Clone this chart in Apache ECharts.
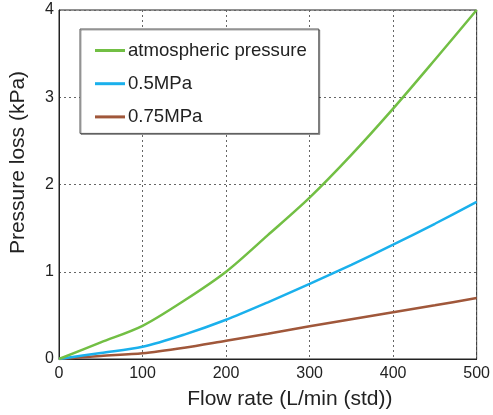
<!DOCTYPE html>
<html>
<head>
<meta charset="utf-8">
<script src="https://cdn.jsdelivr.net/npm/echarts@6/dist/echarts.min.js"></script>
<style>
html, body { margin: 0; padding: 0; background: #fff; }
#chart { width: 493px; height: 415px; }
</style>
</head>
<body>
<div id="chart"></div>
<script>
var flowRates = [0, 50, 100, 150, 200, 250, 300, 350, 400, 450, 500];
var atmospheric = [0, 0.19, 0.38, 0.67, 1.0, 1.42, 1.85, 2.34, 2.87, 3.43, 4.0];
var mpa05 = [0, 0.07, 0.14, 0.28, 0.45, 0.65, 0.86, 1.08, 1.31, 1.55, 1.8];
var mpa075 = [0, 0.035, 0.065, 0.13, 0.21, 0.29, 0.375, 0.455, 0.535, 0.615, 0.7];
var seriesNames = ['atmospheric pressure', '0.5MPa', '0.75MPa'];
var seriesColors = ['#72bf44', '#1ab0ec', '#a0573a'];

function pairs(values) {
    return flowRates.map(function (x, i) {
        return [x, values[i]];
    });
}

var gridLine = {
    show: true,
    lineStyle: { color: '#666', type: [2, 3], width: 1 }
};

var option = {
    animation: false,
    textStyle: { fontFamily: 'Liberation Sans, Arial, sans-serif' },
    grid: {
        left: 56, right: 15, top: 10, bottom: 55,
        show: true,
        borderColor: '#222',
        borderWidth: 1
    },
    legend: {
        orient: 'vertical',
        left: 80,
        top: 29,
        data: seriesNames.map(function (n) { return { name: n, icon: 'rect' }; }),
        itemWidth: 30,
        itemHeight: 3,
        itemGap: 14.2,
        padding: [12, 12, 7, 15],
        backgroundColor: '#fff',
        borderColor: '#555',
        borderWidth: 1,
        shadowColor: 'rgba(0,0,0,0.35)',
        shadowOffsetX: 1,
        shadowOffsetY: 1,
        textStyle: { fontSize: 18.6, color: '#222', padding: [0, 0, 0, -2], lineHeight: 18.6 }
    },
    xAxis: {
        type: 'value',
        min: 0, max: 500, interval: 100,
        name: 'Flow rate (L/min (std))',
        nameLocation: 'middle',
        nameGap: 30,
        // title sits right of centre in the original
        nameTextStyle: { fontSize: 21, color: '#222', padding: [0, 0, 0, 44] },
        axisLine: { show: true, lineStyle: { color: '#222' } },
        axisTick: { show: false },
        axisLabel: { fontSize: 16, color: '#222', margin: 7 },
        splitLine: gridLine
    },
    yAxis: {
        type: 'value',
        min: 0, max: 4, interval: 1,
        name: 'Pressure loss (kPa)',
        nameLocation: 'middle',
        nameGap: 30,
        nameTextStyle: { fontSize: 21, color: '#222', padding: [0, 0, 0, 44] },
        axisLine: { show: true, lineStyle: { color: '#222' } },
        axisTick: { show: false },
        axisLabel: { fontSize: 16, color: '#222', margin: 5 },
        splitLine: gridLine
    },
    series: [atmospheric, mpa05, mpa075].map(function (vals, i) {
        return {
            name: seriesNames[i],
            type: 'line',
            smooth: 0.3,
            showSymbol: false,
            data: pairs(vals),
            itemStyle: { color: seriesColors[i] },
            lineStyle: { color: seriesColors[i], width: 2.5 },
            z: 3 - i
        };
    })
};

var myChart = echarts.init(document.getElementById('chart'));
myChart.setOption(option);
</script>
</body>
</html>
